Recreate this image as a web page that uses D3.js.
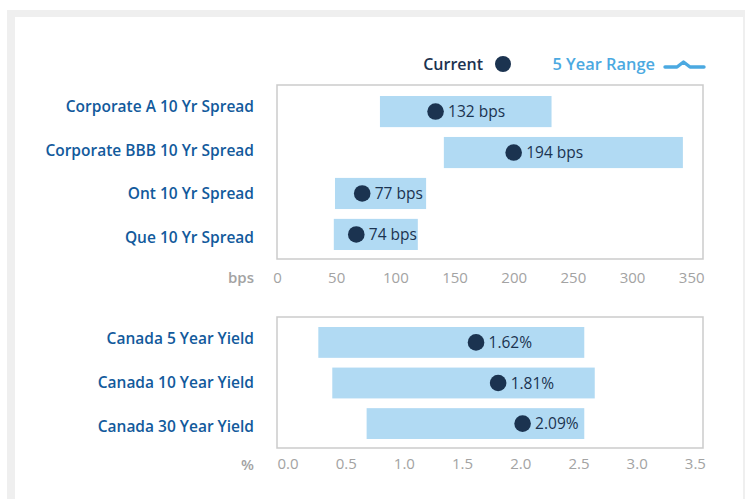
<!DOCTYPE html>
<html>
<head>
<meta charset="utf-8">
<script src="https://cdn.jsdelivr.net/npm/d3@7"></script>
<style>
  body { margin: 0; background: #fff; }
  svg { display: block; font-family: "Open Sans", sans-serif; }
</style>
</head>
<body>
<svg id="chart" width="745" height="499"></svg>
<script>
// spreads (bps)
const spreadNames = ["Corporate A 10 Yr Spread", "Corporate BBB 10 Yr Spread", "Ont 10 Yr Spread", "Que 10 Yr Spread"];
const spreadLow = [87, 141, 49, 48];
const spreadHigh = [232, 343, 126, 119];
const spreadCurrent = [134, 200, 72, 67];
const spreadLabels = ["132 bps", "194 bps", "77 bps", "74 bps"];
const spreadTicks = [0, 50, 100, 150, 200, 250, 300, 350];

// yields (%)
const yieldNames = ["Canada 5 Year Yield", "Canada 10 Year Yield", "Canada 30 Year Yield"];
const yieldLow = [0.265, 0.385, 0.68];
const yieldHigh = [2.55, 2.64, 2.55];
const yieldCurrent = [1.62, 1.81, 2.02];
const yieldLabels = ["1.62%", "1.81%", "2.09%"];
const yieldTicks = [0, 0.5, 1, 1.5, 2, 2.5, 3, 3.5];

const navy = "#1b3350", labelBlue = "#125a9c", barBlue = "#b1daf3", lightBlue = "#4ba9e1", tickGray = "#a3a3a3";

const svg = d3.select("#chart");

// gray frame round the panel
svg.append("rect").attr("x", 7).attr("y", 10).attr("width", 745).attr("height", 520).attr("fill", "#efefef");
svg.append("rect").attr("x", 15).attr("y", 17).attr("width", 728).attr("height", 520).attr("fill", "#fff");

// legend
svg.append("text").attr("x", 483).attr("y", 70).attr("text-anchor", "end")
    .attr("fill", navy).attr("font-size", 16).attr("font-weight", 600).text("Current");
svg.append("circle").attr("cx", 503).attr("cy", 64).attr("r", 8).attr("fill", navy);
svg.append("text").attr("x", 655).attr("y", 70).attr("text-anchor", "end")
    .attr("fill", lightBlue).attr("font-size", 16.4).attr("font-weight", 600).text("5 Year Range");
svg.append("path").attr("d", "M665,67 H677 L683.5,62 L690,67 H704")
    .attr("fill", "none").attr("stroke", lightBlue).attr("stroke-width", 3.4)
    .attr("stroke-linecap", "round").attr("stroke-linejoin", "round");

function panel(cfg) {
  const { names, low, high, current, labels, ticks, domain, top, bottom, barTop, barBottom, unit, fmt, pad } = cfg;
  const left = 277, right = 703;
  const x = d3.scaleLinear().domain(domain).range([left, right]);
  const yLab = d3.scaleBand().domain(names).range([top, bottom]);
  const yBar = d3.scaleBand().domain(names).range([barTop, barBottom]).paddingInner(0.24);

  const g = svg.append("g");
  g.append("rect").attr("x", left).attr("y", top).attr("width", right - left).attr("height", bottom - top)
      .attr("fill", "none").attr("stroke", "#cbcbcb").attr("stroke-width", 1.5);

  g.selectAll("rect.range").data(names).join("rect").attr("class", "range")
      .attr("x", (d, i) => x(low[i])).attr("width", (d, i) => x(high[i]) - x(low[i]))
      .attr("y", d => yBar(d)).attr("height", yBar.bandwidth()).attr("fill", barBlue);

  g.selectAll("circle").data(names).join("circle")
      .attr("cx", (d, i) => x(current[i])).attr("cy", d => yBar(d) + yBar.bandwidth() / 2)
      .attr("r", 8.3).attr("fill", navy);

  g.selectAll("text.val").data(names).join("text").attr("class", "val")
      .attr("x", (d, i) => x(current[i]) + 12.5).attr("y", d => yBar(d) + yBar.bandwidth() / 2 + 5.5)
      .attr("fill", navy).attr("font-size", 15.5).attr("font-weight", 500)
      .text((d, i) => labels[i]);

  g.selectAll("text.cat").data(names).join("text").attr("class", "cat")
      .attr("x", 254).attr("y", d => yLab(d) + yLab.bandwidth() / 2 + 5.5).attr("text-anchor", "end")
      .attr("fill", labelBlue).attr("font-size", 15.5).attr("font-weight", 600).text(d => d);

  const axis = g.append("g").attr("transform", `translate(0,${bottom})`)
      .call(d3.axisBottom(x).tickValues(ticks).tickFormat(fmt).tickSize(0).tickPadding(pad));
  axis.select(".domain").remove();
  axis.selectAll("text").attr("fill", tickGray).attr("font-size", 15).attr("font-family", "Open Sans, sans-serif");

  g.append("text").attr("x", 254).attr("y", bottom + pad + 11).attr("text-anchor", "end")
      .attr("fill", tickGray).attr("font-size", 15).attr("font-weight", 600).text(unit);
}

panel({ names: spreadNames, low: spreadLow, high: spreadHigh, current: spreadCurrent, labels: spreadLabels,
  ticks: spreadTicks, domain: [0, 360], top: 85, bottom: 259, barTop: 96, barBottom: 250,
  unit: "bps", fmt: d3.format("d"), pad: 13 });

panel({ names: yieldNames, low: yieldLow, high: yieldHigh, current: yieldCurrent, labels: yieldLabels,
  ticks: yieldTicks, domain: [-0.09, 3.57], top: 317, bottom: 448, barTop: 327, barBottom: 439,
  unit: "%", fmt: d3.format(".1f"), pad: 10.5 });
</script>
</body>
</html>
